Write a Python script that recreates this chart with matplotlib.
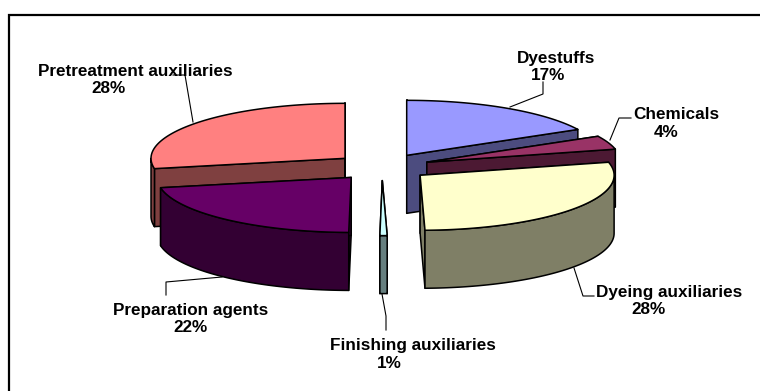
import numpy as np
import matplotlib
matplotlib.use('Agg')
import matplotlib.pyplot as plt
from matplotlib.patches import Polygon

plt.rcParams['font.family'] = ['Liberation Sans', 'DejaVu Sans']

# Values, the labels round them
names = ['Dyestuffs', 'Chemicals', 'Dyeing auxiliaries', 'Finishing auxiliaries',
         'Preparation agents', 'Pretreatment auxiliaries']
shares = [17.2, 4.0, 28.4, 0.6, 21.8, 28.0]
top_colors = ['#9999FF', '#993366', '#FFFFCC', '#CCFFFF', '#660066', '#FF8080']
side_colors = ['#4C4C7F', '#4C1933', '#7F7F66', '#667F7F', '#330033', '#7F4040']

# Pie geometry in pixels
cx, cy = 382, 167
rx, ry = 194, 55
explode = 0.2474
depth = 58

# Back slices first
draw_order = [0, 1, 5, 4, 2, 3]

# name and percent are placed apart, the percent is not centred under the name
name_pos = [(556, 58.5), (676, 114.5), (669, 292.5), (413, 345.5), (191, 310.5), (135, 71.5)]
pct_pos = [(548, 75.5), (666, 132.5), (648, 309.5), (389, 363.5), (191, 327.5), (109, 88.5)]
leaders = [
    [(510, 107), (543, 94), (543, 82)],
    [(610, 140), (619, 118), (631, 118)],
    [(574, 268), (583, 296), (594, 296)],
    [(382, 294), (386, 316), (386, 330)],
    [(222, 277), (166, 282), (166, 295)],
    [(193, 122), (185, 75), (173, 75)],
]


def rim(x0, y0, t):
    return x0 + rx * np.sin(t), y0 - ry * np.cos(t)


def draw_slice(ax, a, b, top, side, z):
    mid = (a + b) / 2
    x0 = cx + explode * rx * np.sin(mid)
    y0 = cy - explode * ry * np.cos(mid)
    edge = dict(edgecolor='black', linewidth=1.1, joinstyle='round')

    # cut faces
    for t in (a, b):
        xr, yr = rim(x0, y0, t)
        pts = [(x0, y0), (xr, yr), (xr, yr + depth), (x0, y0 + depth)]
        ax.add_patch(Polygon(pts, closed=True, facecolor=side, zorder=z, **edge))

    # outer wall, only the part facing the viewer
    lo, hi = max(a, np.pi / 2), min(b, 3 * np.pi / 2)
    if hi > lo:
        t = np.linspace(lo, hi, 80)
        xs, ys = rim(x0, y0, t)
        pts = np.vstack([np.column_stack([xs, ys]),
                         np.column_stack([xs[::-1], ys[::-1] + depth])])
        ax.add_patch(Polygon(pts, closed=True, facecolor=side, zorder=z + 0.1, **edge))

    # top face
    t = np.linspace(a, b, 120)
    xs, ys = rim(x0, y0, t)
    pts = np.vstack([[(x0, y0)], np.column_stack([xs, ys])])
    ax.add_patch(Polygon(pts, closed=True, facecolor=top, zorder=z + 0.2, **edge))


fig = plt.figure(figsize=(7.6, 3.91), dpi=100)
ax = fig.add_axes([0, 0, 1, 1])
ax.set_xlim(0, 760)
ax.set_ylim(391, 0)
ax.axis('off')

# chart border, only top and left show
ax.plot([9, 9, 760], [391, 15, 15], color='black', linewidth=1.6, solid_joinstyle='miter')

edges = np.concatenate([[0], np.cumsum(shares)]) / np.sum(shares) * 2 * np.pi
for n, i in enumerate(draw_order):
    draw_slice(ax, edges[i], edges[i + 1], top_colors[i], side_colors[i], 2 + n)

for i, name in enumerate(names):
    xs, ys = zip(*leaders[i])
    ax.plot(xs, ys, color='black', linewidth=0.8, zorder=11)
    ax.text(name_pos[i][0], name_pos[i][1], name, ha='center', va='center',
            fontsize=12.3, fontweight='bold', zorder=10)
    ax.text(pct_pos[i][0], pct_pos[i][1], f'{shares[i]:.0f}%', ha='center', va='center',
            fontsize=12.3, fontweight='bold', zorder=10)

fig.savefig('out.png', dpi=100)
